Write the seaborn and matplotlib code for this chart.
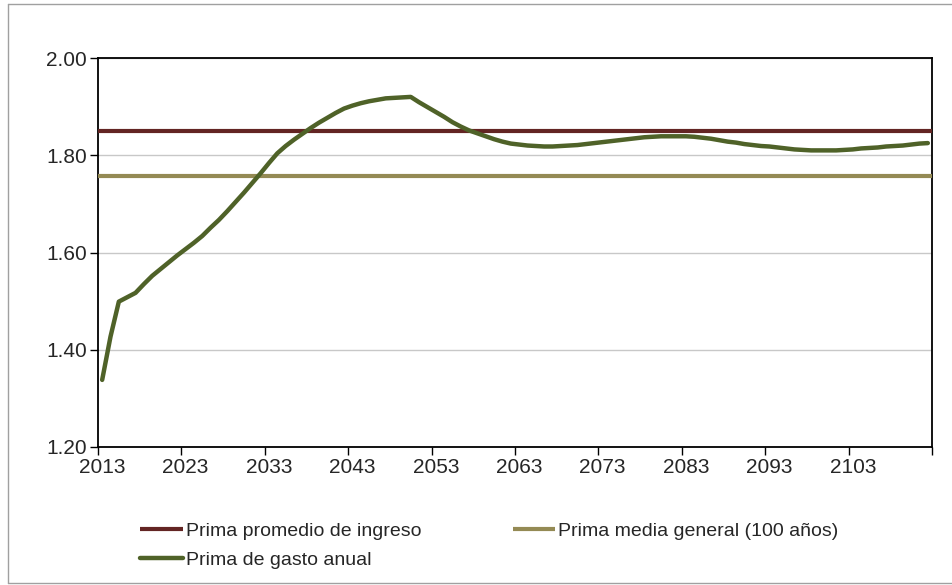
import numpy as np
import pandas as pd
import matplotlib
matplotlib.use('Agg')
import matplotlib.pyplot as plt
import seaborn as sns

# Data
years = list(range(2013, 2113))
gasto_anual = [
    1.338, 1.427, 1.499, 1.508, 1.517, 1.535, 1.552, 1.566, 1.580, 1.594,
    1.607, 1.620, 1.634, 1.651, 1.667, 1.685, 1.704, 1.723, 1.743, 1.763,
    1.784, 1.804, 1.819, 1.832, 1.844, 1.856, 1.867, 1.877, 1.887, 1.896,
    1.902, 1.907, 1.911, 1.914, 1.917, 1.918, 1.919, 1.920, 1.909, 1.899,
    1.889, 1.879, 1.868, 1.859, 1.851, 1.845, 1.839, 1.833, 1.828, 1.824,
    1.822, 1.820, 1.819, 1.818, 1.818, 1.819, 1.820, 1.821, 1.823, 1.825,
    1.827, 1.829, 1.831, 1.833, 1.835, 1.837, 1.838, 1.839, 1.839, 1.839,
    1.839, 1.838, 1.836, 1.834, 1.831, 1.828, 1.826, 1.823, 1.821, 1.819,
    1.818, 1.816, 1.814, 1.812, 1.811, 1.810, 1.810, 1.810, 1.810, 1.811,
    1.812, 1.814, 1.815, 1.816, 1.818, 1.819, 1.820, 1.822, 1.824, 1.825,
]
promedio_ingreso = 1.85
media_general = 1.758

labels = ['Prima promedio de ingreso', 'Prima de gasto anual', 'Prima media general (100 años)']
colors = ['#632523', '#4F6228', '#948A54']

df = pd.DataFrame({'year': years, 'valor': gasto_anual})

sns.set_style('white')
plt.rcParams['font.family'] = ['Liberation Sans', 'DejaVu Sans']

fig = plt.figure(figsize=(9.53, 5.85), dpi=100)
ax = fig.add_axes([98 / 953, 1 - 447 / 585, (932 - 98) / 953, (447 - 58) / 585])

# horizontal reference lines span the whole category axis
ax.axhline(promedio_ingreso, color=colors[0], lw=3, solid_capstyle='butt', label=labels[0], zorder=3)
ax.axhline(media_general, color=colors[2], lw=3, solid_capstyle='butt', label=labels[2], zorder=3)
sns.lineplot(data=df, x='year', y='valor', color=colors[1], lw=3.2, ax=ax,
             label=labels[1], zorder=4)

ax.set_xlim(2012.5, 2112.5)
ax.set_ylim(1.2, 2.0)
yt = [1.2, 1.4, 1.6, 1.8, 2.0]
ax.set_yticks(yt)
ax.set_yticklabels(['%.2f' % v for v in yt])
ax.yaxis.grid(True, color='#C8C8C8', lw=1)
ax.set_axisbelow(True)

# labels at category centres, tick marks at category edges
ax.set_xticks(years[::10])
ax.set_xticklabels([str(y) for y in years[::10]])
ax.set_xticks(np.arange(2012.5, 2113, 10), minor=True)
ax.tick_params(axis='x', which='major', length=0, labelsize=15, pad=8)
ax.tick_params(axis='x', which='minor', length=6, width=1, color='black', direction='out', bottom=True)
ax.tick_params(axis='y', length=6, width=1, color='black', direction='out', left=True, labelsize=15, pad=2)
ax.set_xlabel('')
ax.set_ylabel('')
for s in ax.spines.values():
    s.set_color('black')
    s.set_linewidth(1.3)

ax.get_legend().remove()
h, l = ax.get_legend_handles_labels()
order = [l.index(labels[0]), l.index(labels[1]), l.index(labels[2])]
fig.legend([h[i] for i in order], [l[i] for i in order], ncol=2, loc='upper left',
           bbox_to_anchor=(140 / 953, 1 - 522 / 585), frameon=False, fontsize=14,
           handlelength=2.2, handletextpad=0.15, columnspacing=4.7,
           labelspacing=0.6, borderpad=0, borderaxespad=0)

# chart area frame
fig.add_artist(plt.Line2D([8 / 953, 8 / 953], [1 - 583 / 585, 1 - 4 / 585], color='#A0A0A0', lw=1))
fig.add_artist(plt.Line2D([8 / 953, 1], [1 - 4 / 585, 1 - 4 / 585], color='#A0A0A0', lw=1))
fig.add_artist(plt.Line2D([8 / 953, 1], [1 - 583 / 585, 1 - 583 / 585], color='#A0A0A0', lw=1))

fig.savefig('out.png', dpi=100)
